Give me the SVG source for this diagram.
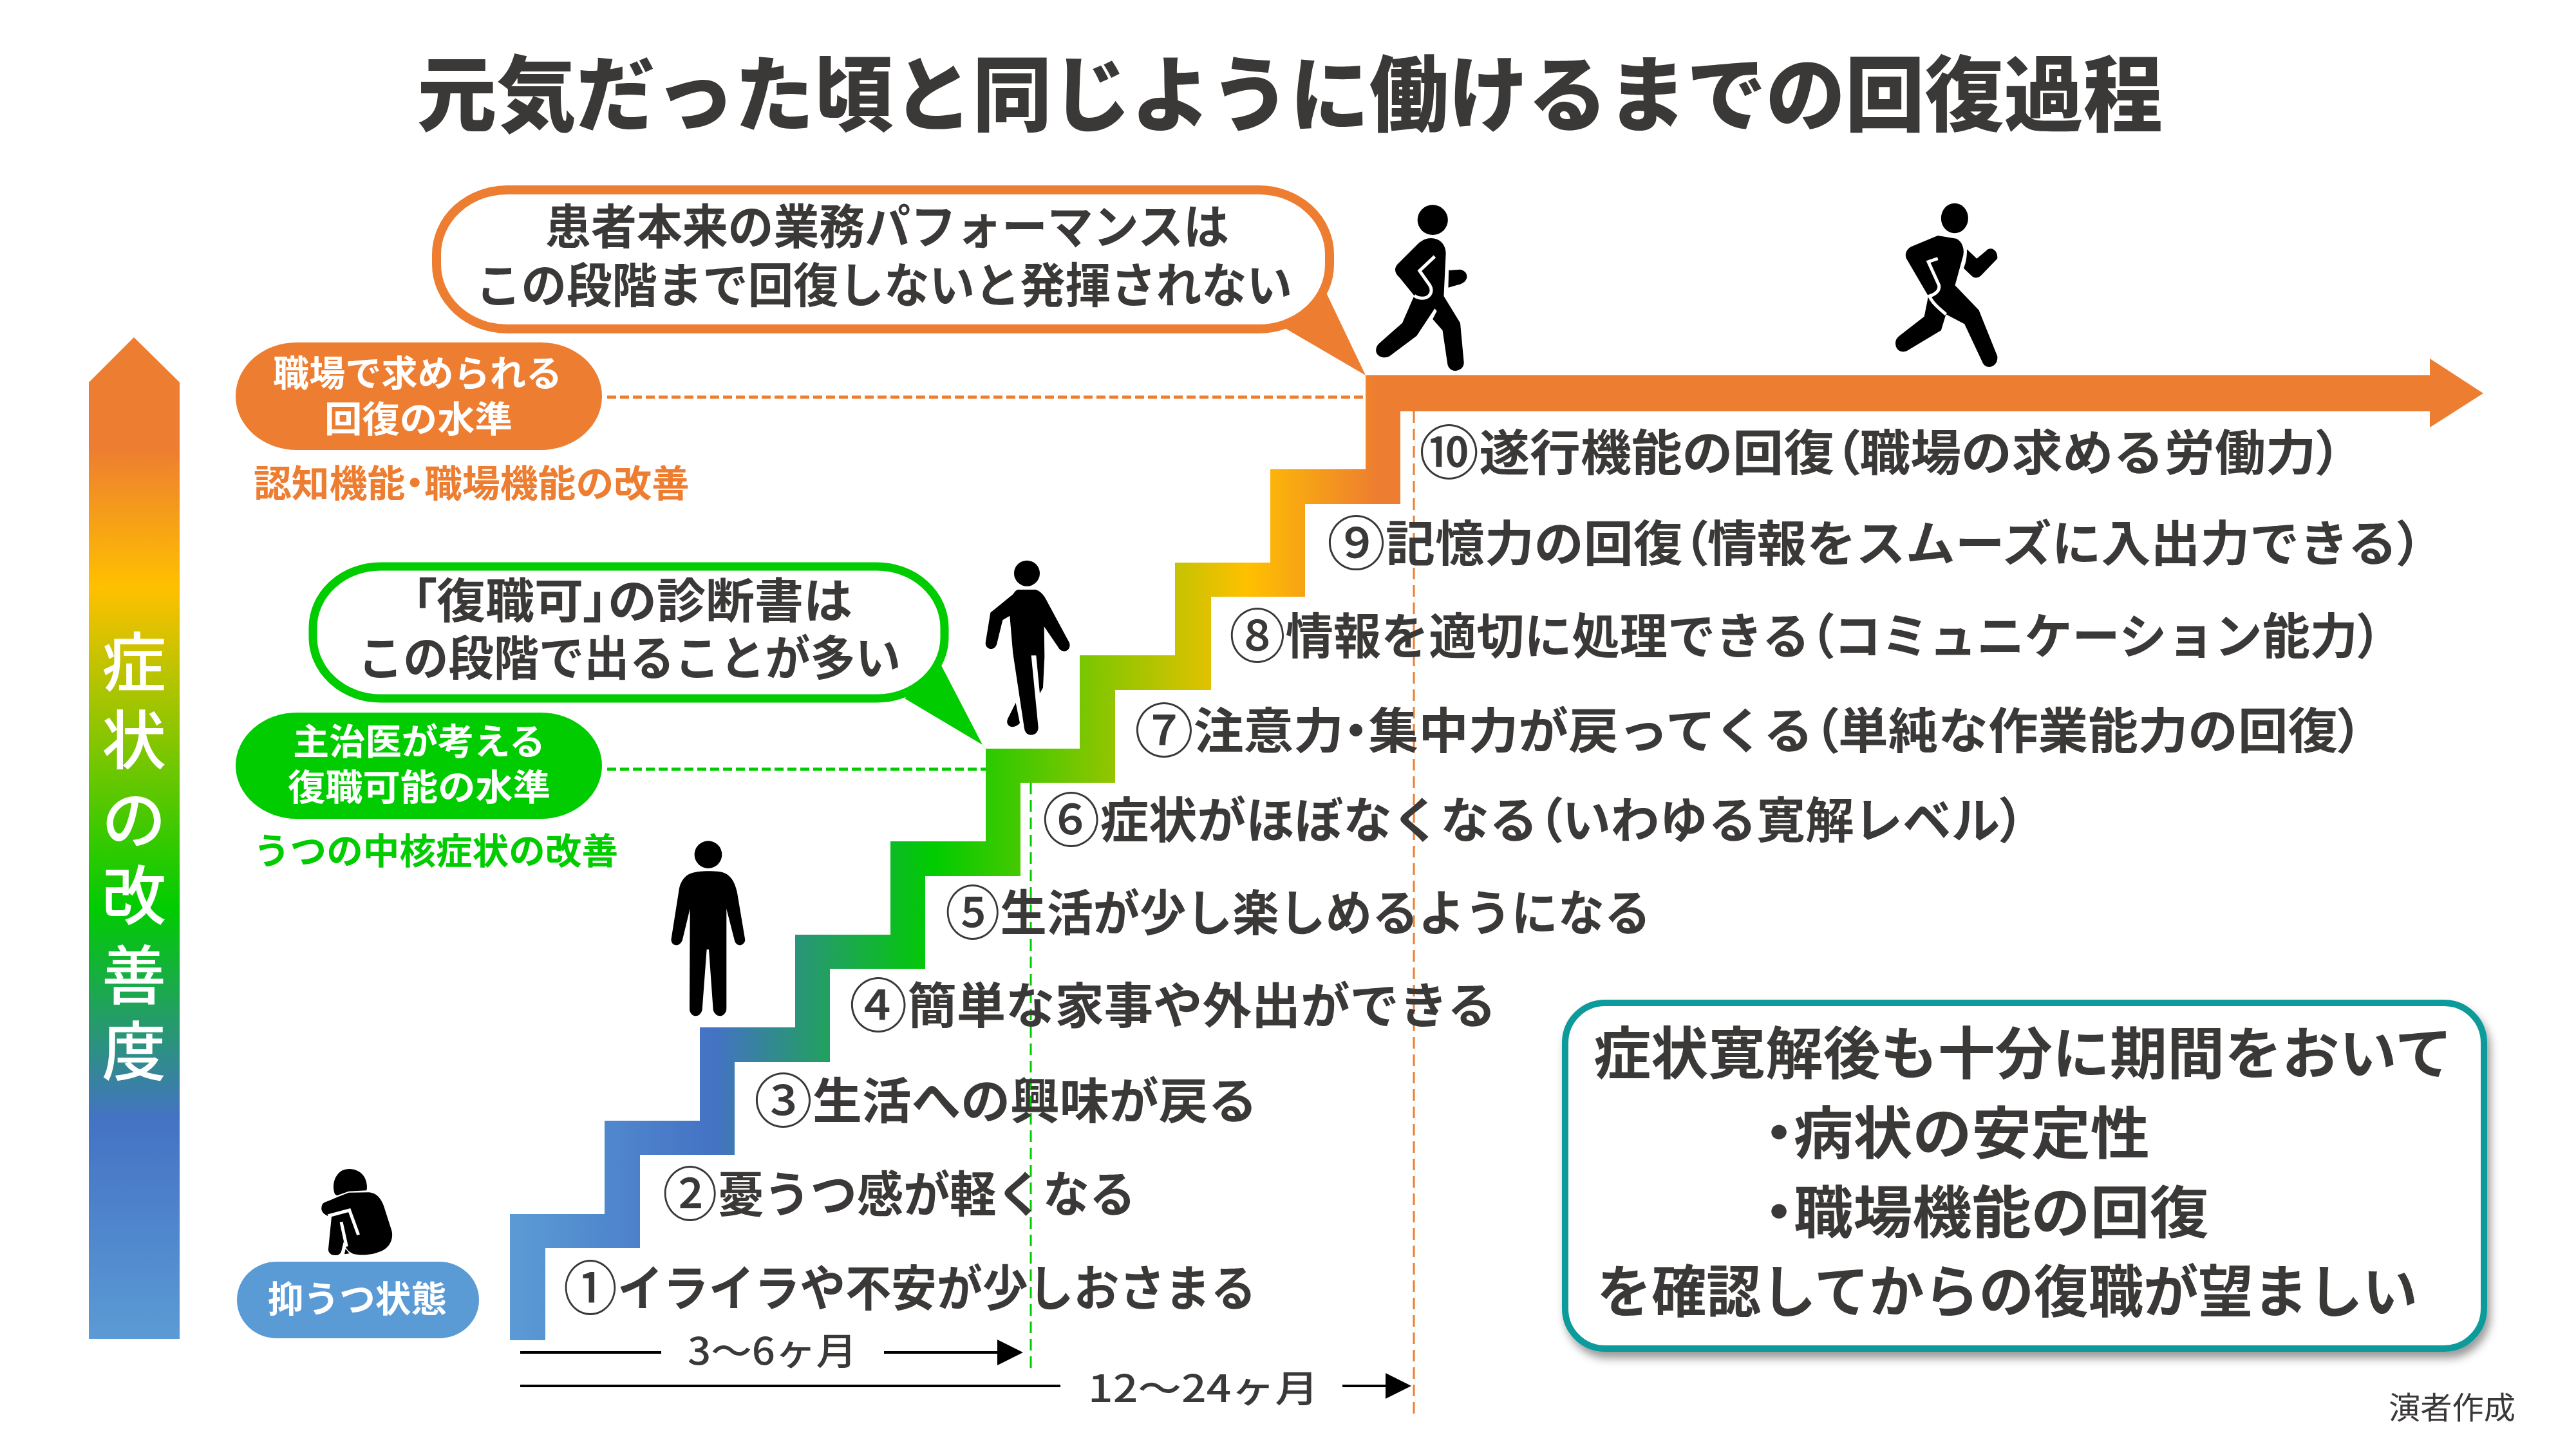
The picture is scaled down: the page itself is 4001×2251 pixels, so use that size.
<svg xmlns="http://www.w3.org/2000/svg" width="4001" height="2251" viewBox="0 0 4001 2251">
<style>
text{font-family:"Noto Sans CJK JP","Noto Sans",sans-serif;fill:#3b3838;font-weight:500}
.p{font-feature-settings:"palt"}
.w{fill:#fff;font-weight:700;font-size:56px}
.s{font-size:76px;font-weight:700}
.c{font-size:90px;font-weight:500}
.b{font-size:74px;font-weight:700}
.r{font-size:88px;font-weight:700}
.k{fill:#000}
.sl{fill:none;stroke:#fff;stroke-width:5;vector-effect:non-scaling-stroke}
.d{fill:none;stroke-dasharray:14 6}
</style>
<defs>
<linearGradient id="gv" gradientUnits="userSpaceOnUse" x1="0" y1="524" x2="0" y2="2080">
<stop offset="0.11" stop-color="#ed7d31"/><stop offset="0.25" stop-color="#ffc000"/><stop offset="0.57" stop-color="#00cc00"/><stop offset="0.78" stop-color="#4472c4"/><stop offset="1" stop-color="#5b9bd5"/>
</linearGradient>
<linearGradient id="gh" gradientUnits="userSpaceOnUse" x1="792" y1="0" x2="2175" y2="0">
<stop offset="0" stop-color="#5b9bd5"/><stop offset="0.23" stop-color="#4472c4"/><stop offset="0.476" stop-color="#00cc00"/><stop offset="0.828" stop-color="#ffc000"/><stop offset="0.975" stop-color="#ed7d31"/>
</linearGradient>
<marker id="ah" markerUnits="userSpaceOnUse" markerWidth="40" markerHeight="40" refX="0" refY="20" orient="auto"><path d="M0 0L40 20L0 40Z" fill="#000"/></marker>
<filter id="sh" x="-5%" y="-5%" width="110%" height="115%"><feDropShadow dx="5" dy="10" stdDeviation="7" flood-color="#000" flood-opacity="0.4"/></filter>
</defs>
<rect width="4001" height="2251" fill="#fff"/>

<text id="title" x="648" y="194" font-size="128" style="font-weight:900" textLength="2711" lengthAdjust="spacingAndGlyphs">元気だった頃と同じように働けるまでの回復過程</text>

<g id="improvement-arrow">
<path d="M138 2080V594L208 524L279 594V2080Z" fill="url(#gv)"/>
<text x="208 208 208 208 208 208" y="1066 1187 1310 1428 1552 1670" text-anchor="middle" font-size="100" style="fill:#fff">症状の改善度</text>
</g>

<g id="connectors">
<path class="d" d="M943 617H2121" stroke="#ed7d31" stroke-width="5"/>
<path class="d" d="M943 1195H1531" stroke="#00cc00" stroke-width="5"/>
<path d="M2196 639V2199" stroke="#ed7d31" stroke-width="3" fill="none" stroke-dasharray="18 9"/>
<path d="M1601 1216V2132" stroke="#00cc00" stroke-width="3" fill="none" stroke-dasharray="18 9"/>
<path d="M808 2101H1027" stroke="#000" stroke-width="4"/>
<path d="M1373 2101H1549" stroke="#000" stroke-width="4" marker-end="url(#ah)"/>
<path d="M808 2153H1647" stroke="#000" stroke-width="4"/>
<path d="M2085 2153H2152" stroke="#000" stroke-width="4" marker-end="url(#ah)"/>
</g>

<g id="stairs">
<path fill="url(#gh)" d="M792 2082V1886H939V1741H1087V1596H1235V1452H1383V1307H1531V1163H1677V1018H1825V874H1973V729H2121V583H3774V557L3857 611L3774 664V639H2175V783H2027V927H1881V1072H1732V1216H1585V1361H1437V1505H1289V1650H1141V1794H994V1939H847V2082Z"/>
</g>

<g id="bubble-orange">
<path d="M2060 455L2121 583L1996 510Z" fill="#ed7d31"/>
<rect x="678" y="295" width="1387" height="216" rx="110" ry="100" fill="#fff" stroke="#ed7d31" stroke-width="14"/>
<text class="b" x="847" y="379" textLength="1062" lengthAdjust="spacingAndGlyphs">患者本来の業務パフォーマンスは</text>
<text class="b" x="739" y="470" textLength="1268" lengthAdjust="spacingAndGlyphs">この段階まで回復しないと発揮されない</text>
</g>

<g id="bubble-green">
<path d="M1460 1030L1526 1157L1405 1085Z" fill="#00cc00"/>
<rect x="486" y="880" width="981" height="205" rx="105" ry="95" fill="#fff" stroke="#00cc00" stroke-width="13"/>
<text class="b" x="640" y="960" textLength="684" lengthAdjust="spacingAndGlyphs"><tspan class="p">「</tspan>復職可<tspan class="p">」</tspan>の診断書は</text>
<text class="b" x="556" y="1049" textLength="843" lengthAdjust="spacingAndGlyphs">この段階で出ることが多い</text>
</g>

<g id="pill-orange">
<rect x="366" y="532" width="569" height="167" rx="95" ry="83" fill="#ed7d31"/>
<text class="w" x="424" y="600" textLength="449" lengthAdjust="spacingAndGlyphs">職場で求められる</text>
<text class="w" x="504" y="671" textLength="292" lengthAdjust="spacingAndGlyphs">回復の水準</text>
<text x="394" y="772" font-size="58" style="fill:#ed7d31;font-weight:700" textLength="677" lengthAdjust="spacingAndGlyphs">認知機能<tspan class="p">・</tspan>職場機能の改善</text>
</g>

<g id="pill-green">
<rect x="366" y="1107" width="569" height="165" rx="95" ry="83" fill="#00cc00"/>
<text class="w" x="455" y="1172" textLength="392" lengthAdjust="spacingAndGlyphs">主治医が考える</text>
<text class="w" x="447" y="1243" textLength="408" lengthAdjust="spacingAndGlyphs">復職可能の水準</text>
<text x="394" y="1342" font-size="56" style="fill:#00cc00;font-weight:700" textLength="566" lengthAdjust="spacingAndGlyphs">うつの中核症状の改善</text>
</g>

<g id="pill-blue">
<rect x="368" y="1960" width="376" height="119" rx="62" ry="59" fill="#5b9bd5"/>
<text class="w" x="416" y="2038" textLength="278" lengthAdjust="spacingAndGlyphs">抑うつ状態</text>
</g>

<g id="steps">
<text class="s" x="875" y="2029" textLength="1076" lengthAdjust="spacingAndGlyphs"><tspan class="c" dy="5">①</tspan><tspan dy="-5">イライラや不安が少しおさまる</tspan></text>
<text class="s" x="1029" y="1883" textLength="735" lengthAdjust="spacingAndGlyphs"><tspan class="c" dy="5">②</tspan><tspan dy="-5">憂うつ感が軽くなる</tspan></text>
<text class="s" x="1171" y="1738" textLength="782" lengthAdjust="spacingAndGlyphs"><tspan class="c" dy="5">③</tspan><tspan dy="-5">生活への興味が戻る</tspan></text>
<text class="s" x="1319" y="1590" textLength="1005" lengthAdjust="spacingAndGlyphs"><tspan class="c" dy="5">④</tspan><tspan dy="-5">簡単な家事や外出ができる</tspan></text>
<text class="s" x="1468" y="1446" textLength="1096" lengthAdjust="spacingAndGlyphs"><tspan class="c" dy="5">⑤</tspan><tspan dy="-5">生活が少し楽しめるようになる</tspan></text>
<text class="s" x="1619" y="1302" textLength="1525" lengthAdjust="spacingAndGlyphs"><tspan class="c" dy="5">⑥</tspan><tspan dy="-5">症状がほぼなくなる</tspan><tspan class="p">（</tspan>いわゆる寛解レベル<tspan class="p">）</tspan></text>
<text class="s" x="1762" y="1163" textLength="1908" lengthAdjust="spacingAndGlyphs"><tspan class="c" dy="5">⑦</tspan><tspan dy="-5">注意力</tspan><tspan class="p">・</tspan>集中力が戻ってくる<tspan class="p">（</tspan>単純な作業能力の回復<tspan class="p">）</tspan></text>
<text class="s" x="1909" y="1016" textLength="1790" lengthAdjust="spacingAndGlyphs"><tspan class="c" dy="5">⑧</tspan><tspan dy="-5">情報を適切に処理できる</tspan><tspan class="p">（</tspan>コミュニケーション能力<tspan class="p">）</tspan></text>
<text class="s" x="2061" y="872" textLength="1701" lengthAdjust="spacingAndGlyphs"><tspan class="c" dy="5">⑨</tspan><tspan dy="-5">記憶力の回復</tspan><tspan class="p">（</tspan>情報をスムーズに入出力できる<tspan class="p">）</tspan></text>
<text class="s" x="2204" y="731" textLength="1433" lengthAdjust="spacingAndGlyphs"><tspan class="c" dy="5">⑩</tspan><tspan dy="-5">遂行機能の回復</tspan><tspan class="p">（</tspan>職場の求める労働力<tspan class="p">）</tspan></text>
</g>

<g id="durations">
<text x="1068" y="2120" font-size="58" textLength="263" lengthAdjust="spacingAndGlyphs">3～6ヶ月</text>
<text x="1690" y="2178" font-size="58" textLength="358" lengthAdjust="spacingAndGlyphs">12～24ヶ月</text>
</g>

<g id="note-box">
<rect x="2431" y="1558" width="1427" height="537" rx="62" ry="62" fill="#fff" stroke="#0a9a9a" stroke-width="10" filter="url(#sh)"/>
<text class="r" x="2475" y="1668" textLength="1334" lengthAdjust="spacingAndGlyphs">症状寛解後も十分に期間をおいて</text>
<text class="r" x="2740" y="1792" textLength="599" lengthAdjust="spacingAndGlyphs"><tspan class="p">・</tspan>病状の安定性</text>
<text class="r" x="2740" y="1915" textLength="691" lengthAdjust="spacingAndGlyphs"><tspan class="p">・</tspan>職場機能の回復</text>
<text class="r" x="2480" y="2038" textLength="1275" lengthAdjust="spacingAndGlyphs">を確認してからの復職が望ましい</text>
</g>

<text id="source" x="3710" y="2204" font-size="48" style="font-weight:400" textLength="197" lengthAdjust="spacingAndGlyphs">演者作成</text>

<g id="figure-sitting" transform="translate(470,1800) scale(0.3333)">
<path class="k" d="M150 165C135 120 150 75 185 55C220 40 270 50 290 90C300 110 302 135 298 148L215 152L160 172Z"/>
<path class="k" d="M100 205L165 178L215 158L310 157C345 160 365 185 378 220L415 335C425 375 405 420 355 435C320 450 265 452 235 443C210 432 198 415 192 385L182 425C180 440 170 450 155 450C135 452 118 440 120 420L135 270C110 270 85 250 88 230C88 220 92 210 100 205Z"/>
<path class="sl" d="M118 267L218 240L260 355M180 295L205 410"/>
<path class="k" d="M200 420L218 442L195 445Z"/>
</g>

<g id="figure-standing" transform="translate(1000,1290) scale(0.3333)">
<circle class="k" cx="300" cy="113" r="64"/>
<path class="k" d="M300 190C340 190 375 190 400 215C420 235 428 260 435 290L472 510C472 525 455 537 445 535C430 532 425 522 422 510L385 365V830C385 850 370 865 355 865C338 865 325 850 323 835L303 555H293L272 835C270 850 258 865 243 865C225 865 213 850 213 830L215 365L180 510C175 525 165 535 150 535C135 535 125 520 128 505L165 270C170 245 185 220 205 207C230 192 270 190 300 190Z"/>
</g>

<g id="figure-walking" transform="translate(1480,860) scale(0.3333)">
<circle class="k" cx="345" cy="92" r="60"/>
<path class="k" d="M305 168H385C410 175 425 195 435 215L540 410C552 430 540 455 520 455C505 455 495 445 490 435L425 340L427 480L420 625L405 652L388 475H365L398 810C398 835 380 845 365 845C345 845 335 830 333 815L280 465L265 290L232 310L205 420C200 440 185 447 170 443C155 438 150 425 153 410L175 275L280 190C290 175 295 170 305 168Z"/>
<path class="k" d="M293 695L312 790C300 805 280 812 265 805C250 795 250 780 258 765Z"/>
</g>

<g id="figure-striding" transform="translate(2120,300) scale(0.6378,0.3333)">
<ellipse class="k" cx="165" cy="125" rx="37" ry="70"/>
<path class="k" d="M160 210C185 210 197 245 197 280L192 480L232 605L241 790C241 815 230 828 220 828C208 828 202 810 201 795L189 640L165 587L175 550L170 538L126 665L60 760C45 775 28 760 27 735C27 715 32 705 35 700L91 605L120 478L85 395C72 375 70 350 80 330L130 235C140 218 150 210 160 210Z"/>
<path class="sl" d="M170 295L133 362L158 430C168 465 155 490 140 490C130 490 125 485 120 478"/>
<path class="k" d="M204 360L232 356C245 360 250 380 248 395C245 415 235 425 225 428L203 440Z"/>
</g>

<g id="figure-running" transform="translate(2120,300) scale(0.6378,0.3333)">
<ellipse class="k" cx="1436" cy="117" rx="33" ry="70"/>
<path class="k" d="M1395 198L1440 212C1455 225 1460 260 1457 290L1437 430L1495 545L1540 760C1542 790 1532 810 1520 810C1510 810 1505 795 1503 785L1460 610L1415 565L1403 640L1320 735C1305 748 1292 730 1292 700C1292 680 1298 670 1305 660L1362 575L1372 480L1320 310C1312 285 1320 260 1330 250Z"/>
<path class="sl" d="M1395 305L1372 320L1398 430C1400 455 1390 470 1375 480C1380 510 1400 540 1415 565"/>
<path class="k" d="M1466 262L1490 305L1517 262C1530 250 1542 275 1540 305L1500 385C1490 400 1482 395 1477 385L1458 350C1465 320 1466 290 1466 262Z"/>
</g>
</svg>
